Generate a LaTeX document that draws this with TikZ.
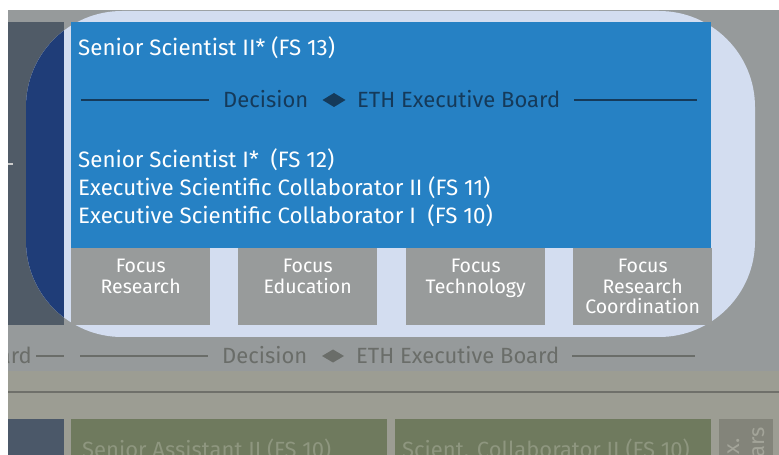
\documentclass[tikz,border=0pt]{standalone}
\usepackage{fontspec}
\setmainfont{Fira Sans}
\usetikzlibrary{positioning}

\definecolor{bgGray}{HTML}{969A9B}
\definecolor{paleBlue}{HTML}{D3DDF0}
\definecolor{mainBlue}{HTML}{2681C4}
\definecolor{deepBlue}{HTML}{1F3D78}
\definecolor{slate}{HTML}{505B67}
\definecolor{navy}{HTML}{153A5A}
\definecolor{focusGray}{HTML}{989B9B}
\definecolor{lineGray}{HTML}{6A6D69}
\definecolor{khaki}{HTML}{9C9D93}
\definecolor{khakiLine}{HTML}{6F706A}
\definecolor{olive}{HTML}{6F7A5E}
\definecolor{oliveText}{HTML}{8E967F}
\definecolor{slateLow}{HTML}{4B5869}
\definecolor{boxGray}{HTML}{83847A}
\definecolor{boxText}{HTML}{A3A499}

\tikzset{
  rolelabel/.style={anchor=base west, inner sep=0pt, text=white,
    font=\fontsize{22.3bp}{28bp}\selectfont},
  focusbox/.style={anchor=north west, fill=focusGray, inner sep=0pt,
    minimum width=139bp, minimum height=77bp},
  focuslabel/.style={anchor=north, inner sep=0pt, text=white, align=center,
    font=\fontsize{19.5bp}{20.6bp}\selectfont},
  decisionlabel/.style={anchor=base west, inner sep=0pt,
    font=\fontsize{22bp}{24bp}\selectfont},
  ruleline/.style={line width=1.8bp},
  lowlabel/.style={anchor=base west, inner sep=0pt, text=oliveText,
    font=\fontsize{22bp}{24bp}\selectfont},
}

\begin{document}
\begin{tikzpicture}[x=1bp, y=-1bp]
\useasboundingbox (0,0) rectangle (779,455);
\clip (0,0) rectangle (779,455);

% backdrop bands
\fill[white] (0,0) rectangle (779,455);
\fill[bgGray] (8,10) rectangle (779,371);
\fill[khaki] (8,371) rectangle (779,455);
\draw[khakiLine, line width=1.6bp] (8,392) -- (779,392);

% left column panel
\fill[slate] (8,22) rectangle (64,325);
\draw[gray!40, line width=1.5bp] (8,164) -- (13,164);

% highlighted group
\fill[paleBlue, rounded corners=96bp] (26,11) rectangle (755,337);
\begin{scope}
  \clip[rounded corners=96bp] (26,11) rectangle (755,337);
  \fill[deepBlue] (8,22) rectangle (64,325);
\end{scope}
\fill[mainBlue] (71,22) rectangle (711,248);

% role titles
\node[rolelabel] (ss2) at (78,55.5) {Senior Scientist II*\ (FS 13)};
\node[rolelabel] (ss1) at (78,167.5) {Senior Scientist I*\ \ (FS 12)};
\node[rolelabel] (esc2) at (78,195.5) {Executive Scientific Collaborator II (FS 11)};
\node[rolelabel] (esc1) at (78,223.5) {Executive Scientific Collaborator I\ \ (FS 10)};

% decision rule inside the group
\node[decisionlabel, text=navy] (dec) at (223,107.5) {Decision};
\node[decisionlabel, text=navy] (eth) at (357,107.5) {ETH Executive Board};
\coordinate (dl1) at (81,100);  \coordinate (dl2) at (209,100);
\coordinate (dr1) at (574,100); \coordinate (dr2) at (697,100);
\draw[ruleline, navy] (dl1) -- (dl2);
\draw[ruleline, navy] (dr1) -- (dr2);
\fill[navy] (322.5,100) -- (334,93) -- (345.5,100) -- (334,107) -- cycle;

% focus areas
\node[focusbox] (f1) at (71,248) {};
\node[focusbox] (f2) at (238,248) {};
\node[focusbox] (f3) at (406,248) {};
\node[focusbox] (f4) at (573,248) {};
\node[focuslabel] (f1t) at ([yshift=-11bp]f1.north) {Focus\\Research};
\node[focuslabel] (f2t) at ([yshift=-11bp]f2.north) {Focus\\Education};
\node[focuslabel] (f3t) at ([yshift=-11bp]f3.north) {Focus\\Technology};
\node[focuslabel] (f4t) at ([yshift=-11bp]f4.north) {Focus\\Research\\Coordination};

% decision rule below the group
\node[decisionlabel, text=lineGray, anchor=base east] (brd) at (32,363.5) {ard};
\node[decisionlabel, text=lineGray] (dec2) at (222,363.5) {Decision};
\node[decisionlabel, text=lineGray] (eth2) at (356,363.5) {ETH Executive Board};
\coordinate (ll0) at (36,356);  \coordinate (ll1) at (64,356);
\coordinate (ll2) at (80,356);  \coordinate (ll3) at (208,356);
\coordinate (lr1) at (572,356); \coordinate (lr2) at (695,356);
\draw[ruleline, lineGray] (ll0) -- (ll1);
\draw[ruleline, lineGray] (ll2) -- (ll3);
\draw[ruleline, lineGray] (lr1) -- (lr2);
\fill[lineGray] (322,356) -- (333,349.5) -- (344,356) -- (333,362.5) -- cycle;

% bottom row
\fill[slateLow] (8,419) rectangle (64,455);
\fill[olive] (71,419) rectangle (387,455);
\fill[olive] (395,419) rectangle (711,455);
\fill[boxGray] (719,419) rectangle (773,455);
\node[lowlabel] (sa2) at (82,457) {Senior Assistant II (FS 10)};
\node[lowlabel] (sc2) at (402,457) {Scient. Collaborator II (FS 10)};
\node[lowlabel, text=boxText, rotate=90, anchor=base east] (yr1) at (739,438) {x.};
\node[lowlabel, text=boxText, rotate=90, anchor=base east] (yr2) at (764,427) {ars};

% page margin on the left
\fill[white] (0,0) rectangle (8,455);
\end{tikzpicture}
\end{document}
